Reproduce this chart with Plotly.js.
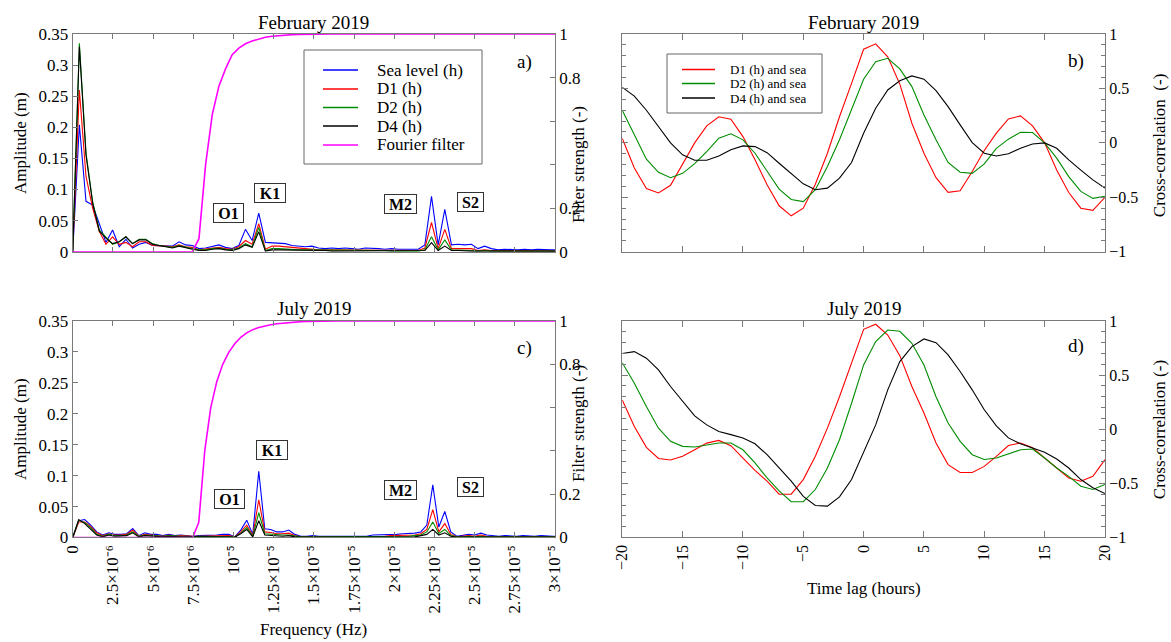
<!DOCTYPE html>
<html>
<head>
<meta charset="utf-8">
<script src="https://cdn.plot.ly/plotly-3.0.1.min.js"></script>
<style>html,body{margin:0;padding:0;background:#fff;}#chart{width:1171px;height:642px;}</style>
</head>
<body>
<div id="chart"></div>
<script>
// ---------- Spectra, February 2019 (frequency in 1e-6 Hz) ----------
const freqFeb = [0, 0.413, 0.827, 1.240, 1.653, 2.067, 2.480, 2.894, 3.307, 3.720,
  4.134, 4.547, 4.960, 5.374, 5.787, 6.200, 6.614, 7.027, 7.441, 7.854,
  8.267, 8.681, 9.094, 9.507, 9.921, 10.334, 10.747, 11.161, 11.574, 11.987,
  12.401, 12.814, 13.228, 13.641, 14.054, 14.468, 14.881, 15.294, 15.708, 16.121,
  16.534, 16.948, 17.361, 17.775, 18.188, 18.601, 19.015, 19.428, 19.841, 20.255,
  20.668, 21.081, 21.495, 21.908, 22.321, 22.735, 23.148, 23.562, 23.975, 24.388,
  24.802, 25.215, 25.628, 26.042, 26.455, 26.868, 27.282, 27.695, 28.108, 28.522,
  28.935, 29.349, 29.762, 30.175];
const seaFeb = [0, 0.204, 0.081, 0.075, 0.045, 0.015, 0.035, 0.008, 0.020, 0.006,
  0.012, 0.015, 0.010, 0.010, 0.009, 0.009, 0.016, 0.011, 0.010, 0.005,
  0.006, 0.008, 0.011, 0.007, 0.005, 0.010, 0.036, 0.018, 0.062, 0.015,
  0.014, 0.013, 0.013, 0.010, 0.009, 0.008, 0.009, 0.006, 0.005, 0.006,
  0.005, 0.006, 0.005, 0.004, 0.006, 0.006, 0.005, 0.004, 0.005, 0.004,
  0.004, 0.004, 0.004, 0.011, 0.089, 0.011, 0.068, 0.011, 0.012, 0.011,
  0.012, 0.005, 0.009, 0.005, 0.003, 0.004, 0.003, 0.003, 0.004, 0.003,
  0.004, 0.003, 0.003, 0.003];
const d1Feb = [0, 0.260, 0.121, 0.070, 0.033, 0.012, 0.024, 0.012, 0.015, 0.008,
  0.016, 0.016, 0.010, 0.010, 0.009, 0.008, 0.011, 0.008, 0.007, 0.003,
  0.004, 0.006, 0.007, 0.005, 0.004, 0.008, 0.018, 0.012, 0.045, 0.004,
  0.009, 0.009, 0.008, 0.006, 0.005, 0.004, 0.004, 0.003, 0.003, 0.003,
  0.003, 0.003, 0.002, 0.002, 0.003, 0.003, 0.002, 0.002, 0.002, 0.002,
  0.002, 0.002, 0.002, 0.006, 0.047, 0.005, 0.036, 0.005, 0.005, 0.005,
  0.005, 0.002, 0.003, 0.002, 0.002, 0.002, 0.001, 0.002, 0.002, 0.001,
  0.002, 0.001, 0.001, 0.001];
const d2Feb = [0, 0.335, 0.159, 0.080, 0.035, 0.024, 0.012, 0.016, 0.024, 0.013,
  0.020, 0.020, 0.013, 0.010, 0.009, 0.007, 0.010, 0.007, 0.005, 0.003,
  0.003, 0.005, 0.006, 0.004, 0.003, 0.006, 0.013, 0.008, 0.039, 0.002,
  0.005, 0.005, 0.004, 0.004, 0.003, 0.003, 0.003, 0.003, 0.002, 0.002,
  0.002, 0.002, 0.002, 0.002, 0.002, 0.002, 0.002, 0.002, 0.001, 0.001,
  0.001, 0.001, 0.001, 0.003, 0.024, 0.003, 0.019, 0.003, 0.003, 0.002,
  0.002, 0.001, 0.002, 0.001, 0.001, 0.001, 0.001, 0.001, 0.001, 0.001,
  0.001, 0.001, 0.001, 0.001];
const d4Feb = [0, 0.330, 0.155, 0.078, 0.033, 0.022, 0.013, 0.016, 0.024, 0.013,
  0.019, 0.019, 0.012, 0.010, 0.009, 0.006, 0.009, 0.006, 0.004, 0.002,
  0.002, 0.004, 0.005, 0.003, 0.002, 0.005, 0.011, 0.007, 0.032, 0.001,
  0.003, 0.003, 0.003, 0.003, 0.002, 0.002, 0.002, 0.002, 0.002, 0.001,
  0.001, 0.001, 0.001, 0.001, 0.001, 0.001, 0.001, 0.001, 0.001, 0.001,
  0.001, 0.001, 0.001, 0.002, 0.0145, 0.002, 0.009, 0.002, 0.002, 0.001,
  0.001, 0.001, 0.001, 0.001, 0.001, 0.001, 0.001, 0.001, 0.001, 0.001,
  0.001, 0.001, 0.001, 0.001];
const filterFeb = [0, 0, 0, 0, 0, 0, 0, 0, 0, 0,
  0, 0, 0, 0, 0, 0, 0, 0, 0, 0.06,
  0.40, 0.63, 0.76, 0.84, 0.905, 0.935, 0.955, 0.968, 0.978, 0.985,
  0.990, 0.993, 0.995, 0.997, 0.998, 0.999, 1, 1, 1, 1,
  1, 1, 1, 1, 1, 1, 1, 1, 1, 1,
  1, 1, 1, 1, 1, 1, 1, 1, 1, 1,
  1, 1, 1, 1, 1, 1, 1, 1, 1, 1,
  1, 1, 1, 1];

// ---------- Spectra, July 2019 ----------
const freqJul = [0, 0.373, 0.747, 1.120, 1.493, 1.867, 2.240, 2.614, 2.987, 3.360,
  3.734, 4.107, 4.480, 4.854, 5.227, 5.600, 5.974, 6.347, 6.720, 7.094,
  7.467, 7.841, 8.214, 8.587, 8.961, 9.334, 9.707, 10.081, 10.454, 10.827,
  11.201, 11.574, 11.948, 12.321, 12.694, 13.068, 13.441, 13.814, 14.188, 14.561,
  14.934, 15.308, 15.681, 16.054, 16.428, 16.801, 17.175, 17.548, 17.921, 18.295,
  18.668, 19.041, 19.415, 19.788, 20.161, 20.535, 20.908, 21.282, 21.655, 22.028,
  22.402, 22.775, 23.148, 23.522, 23.895, 24.268, 24.642, 25.015, 25.388, 25.762,
  26.135, 26.508, 26.882, 27.255, 27.629, 28.002, 28.375, 28.749, 29.122, 29.495,
  29.869, 30.242];
const seaJul = [0, 0.027, 0.029, 0.020, 0.009, 0.004, 0.0075, 0.005, 0.005, 0.006,
  0.0145, 0.003, 0.0075, 0.005, 0.005, 0.003, 0.005, 0.003, 0.004, 0.003,
  0.002, 0.003, 0.003, 0.003, 0.004, 0.005, 0.005, 0.001, 0.012, 0.028,
  0.005, 0.107, 0.014, 0.013, 0.009, 0.009, 0.012, 0.005, 0.002, 0.002,
  0.003, 0.002, 0.002, 0.003, 0.002, 0.002, 0.002, 0.002, 0.003, 0.002,
  0.004, 0.004, 0.004, 0.005, 0.005, 0.006, 0.006, 0.007, 0.009, 0.020,
  0.085, 0.017, 0.042, 0.009, 0.002, 0.003, 0.005, 0.004, 0.007, 0.004,
  0.003, 0.002, 0.003, 0.002, 0.002, 0.003, 0.002, 0.002, 0.003, 0.002,
  0.002, 0.002];
const d1Jul = [0, 0.025, 0.025, 0.018, 0.0075, 0.003, 0.0055, 0.004, 0.004, 0.005,
  0.012, 0.002, 0.005, 0.004, 0.004, 0.002, 0.004, 0.002, 0.003, 0.002,
  0.002, 0.002, 0.002, 0.002, 0.003, 0.003, 0.003, 0.001, 0.009, 0.020,
  0.003, 0.061, 0.009, 0.008, 0.006, 0.006, 0.007, 0.003, 0.001, 0.001,
  0.001, 0.001, 0.001, 0.001, 0.001, 0.001, 0.001, 0.001, 0.001, 0.001,
  0.002, 0.002, 0.002, 0.003, 0.003, 0.003, 0.004, 0.004, 0.006, 0.013,
  0.045, 0.009, 0.0225, 0.005, 0.001, 0.002, 0.003, 0.002, 0.004, 0.002,
  0.002, 0.001, 0.001, 0.001, 0.001, 0.001, 0.001, 0.001, 0.001, 0.001,
  0.001, 0.001];
const d2Jul = [0, 0.028, 0.024, 0.016, 0.005, 0.002, 0.005, 0.003, 0.003, 0.004,
  0.009, 0.002, 0.004, 0.003, 0.003, 0.002, 0.003, 0.002, 0.002, 0.002,
  0.001, 0.002, 0.002, 0.002, 0.002, 0.002, 0.002, 0.001, 0.007, 0.016,
  0.002, 0.040, 0.006, 0.005, 0.004, 0.004, 0.004, 0.002, 0.001, 0.001,
  0.001, 0.001, 0.001, 0.001, 0.001, 0.001, 0.001, 0.001, 0.001, 0.001,
  0.001, 0.001, 0.001, 0.002, 0.002, 0.002, 0.002, 0.003, 0.004, 0.009,
  0.025, 0.0065, 0.013, 0.003, 0.001, 0.001, 0.002, 0.001, 0.002, 0.001,
  0.001, 0.001, 0.001, 0.001, 0.001, 0.001, 0.001, 0.001, 0.001, 0.001,
  0.001, 0.001];
const d4Jul = [0, 0.029, 0.0225, 0.014, 0.004, 0.001, 0.004, 0.002, 0.002, 0.003,
  0.0075, 0.001, 0.003, 0.002, 0.002, 0.001, 0.002, 0.001, 0.001, 0.001,
  0.001, 0.001, 0.001, 0.001, 0.001, 0.001, 0.001, 0.0005, 0.006, 0.013,
  0.001, 0.027, 0.004, 0.003, 0.003, 0.002, 0.003, 0.001, 0.0005, 0.0005,
  0.0005, 0.0005, 0.0005, 0.0005, 0.0005, 0.0005, 0.0005, 0.0005, 0.0005, 0.0005,
  0.0005, 0.0005, 0.0005, 0.001, 0.001, 0.001, 0.001, 0.001, 0.003, 0.005,
  0.013, 0.004, 0.0075, 0.002, 0.0005, 0.0005, 0.0005, 0.0005, 0.0005, 0.0005,
  0.0005, 0.0005, 0.0005, 0.0005, 0.0005, 0.0005, 0.0005, 0.0005, 0.0005, 0.0005,
  0.0005, 0.0005];
const filterJul = [0, 0, 0, 0, 0, 0, 0, 0, 0, 0,
  0, 0, 0, 0, 0, 0, 0, 0, 0, 0,
  0, 0.07, 0.40, 0.60, 0.72, 0.80, 0.855, 0.895, 0.925, 0.945,
  0.960, 0.970, 0.977, 0.983, 0.987, 0.990, 0.993, 0.995, 0.997, 0.998,
  0.999, 1, 1, 1, 1, 1, 1, 1, 1, 1,
  1, 1, 1, 1, 1, 1, 1, 1, 1, 1,
  1, 1, 1, 1, 1, 1, 1, 1, 1, 1,
  1, 1, 1, 1, 1, 1, 1, 1, 1, 1,
  1, 1];

// ---------- Cross-correlation vs time lag (hours) ----------
const lag = [-20, -19, -18, -17, -16, -15, -14, -13, -12, -11, -10, -9, -8, -7, -6, -5, -4, -3, -2, -1,
  0, 1, 2, 3, 4, 5, 6, 7, 8, 9, 10, 11, 12, 13, 14, 15, 16, 17, 18, 19, 20];
const ccD1Feb = [0.04, -0.23, -0.42, -0.46, -0.39, -0.20, 0.0, 0.156, 0.24, 0.217, 0.058, -0.156, -0.385, -0.578, -0.67, -0.60, -0.38, -0.095, 0.24, 0.547,
  0.86, 0.91, 0.79, 0.54, 0.18, -0.095, -0.32, -0.455, -0.44, -0.263, -0.07, 0.09, 0.22, 0.248, 0.156, 0.0, -0.25, -0.456, -0.60, -0.62, -0.50];
const ccD2Feb = [0.30, 0.073, -0.15, -0.27, -0.32, -0.28, -0.19, -0.08, 0.043, 0.083, 0.028, -0.095, -0.26, -0.425, -0.52, -0.54, -0.43, -0.217, 0.028, 0.30,
  0.584, 0.746, 0.777, 0.68, 0.517, 0.257, 0.028, -0.18, -0.27, -0.28, -0.193, -0.05, 0.034, 0.098, 0.095, 0.0, -0.14, -0.31, -0.446, -0.51, -0.49];
const ccD4Feb = [0.51, 0.43, 0.30, 0.15, 0.0, -0.11, -0.16, -0.16, -0.12, -0.064, -0.028, -0.034, -0.09, -0.187, -0.284, -0.376, -0.43, -0.416, -0.324, -0.18,
  0.089, 0.318, 0.486, 0.57, 0.615, 0.585, 0.48, 0.333, 0.165, 0.003, -0.095, -0.12, -0.10, -0.05, -0.01, 0.0, -0.05, -0.156, -0.25, -0.34, -0.416];
const ccD1Jul = [0.27, 0.026, -0.167, -0.27, -0.284, -0.25, -0.19, -0.128, -0.103, -0.152, -0.266, -0.38, -0.48, -0.60, -0.60, -0.465, -0.25, 0.01, 0.30, 0.61,
  0.923, 0.97, 0.87, 0.68, 0.395, 0.15, -0.127, -0.327, -0.40, -0.40, -0.343, -0.25, -0.15, -0.127, -0.17, -0.266, -0.358, -0.45, -0.48, -0.435, -0.28];
const ccD2Jul = [0.615, 0.425, 0.21, 0.01, -0.112, -0.158, -0.164, -0.143, -0.127, -0.127, -0.19, -0.31, -0.45, -0.57, -0.67, -0.67, -0.557, -0.358, -0.097, 0.24,
  0.594, 0.81, 0.917, 0.905, 0.794, 0.594, 0.30, 0.057, -0.112, -0.235, -0.28, -0.266, -0.226, -0.19, -0.183, -0.266, -0.358, -0.435, -0.527, -0.557, -0.51];
const ccD4Jul = [0.70, 0.717, 0.656, 0.548, 0.395, 0.257, 0.124, 0.04, -0.02, -0.05, -0.08, -0.134, -0.235, -0.358, -0.48, -0.62, -0.705, -0.71, -0.625, -0.465,
  -0.204, 0.04, 0.364, 0.625, 0.763, 0.834, 0.80, 0.687, 0.533, 0.364, 0.18, 0.032, -0.08, -0.134, -0.174, -0.213, -0.275, -0.358, -0.465, -0.54, -0.594];

// ---------- Tick labels and legend texts ----------
const freqTickVals = [0, 2.5, 5, 7.5, 10, 12.5, 15, 17.5, 20, 22.5, 25, 27.5, 30];
const freqTickText = ['0', '2.5×10⁻⁶', '5×10⁻⁶', '7.5×10⁻⁶', '10⁻⁵',
  '1.25×10⁻⁵', '1.5×10⁻⁵', '1.75×10⁻⁵', '2×10⁻⁵', '2.25×10⁻⁵',
  '2.5×10⁻⁵', '2.75×10⁻⁵', '3×10⁻⁵'];
const filterTickVals = [0, 0.2, 0.8, 1];
const filterTickText = ['0', '0.2', '0.8', '1'];
const specNames = ['Sea level (h)', 'D1 (h)', 'D2 (h)', 'D4 (h)', 'Fourier filter'];
const ccNames = ['D1 (h) and sea', 'D2 (h) and sea', 'D4 (h) and sea'];

// ---------- Styling ----------
const FONT = 'Liberation Serif, "Times New Roman", Times, serif';
const AX = '#7a7a7a';
const specColors = ['#0000ff', '#ff0000', '#008c00', '#000000', '#ff00ff'];
const ccColors = ['#ff0000', '#008c00', '#000000'];
const LW = 1.1;
const W = 1171, H = 642;
const px = v => v / W, py = v => 1 - v / H;

function spec(x, y, xa, ya, i) {
  return {type: 'scatter', mode: 'lines', x: x, y: y, xaxis: xa, yaxis: ya, name: specNames[i],
    line: {color: specColors[i], width: i === 4 ? 1.6 : LW}, showlegend: false, hoverinfo: 'skip'};
}
function cc(y, xa, ya, i) {
  return {type: 'scatter', mode: 'lines', x: lag, y: y, xaxis: xa, yaxis: ya, name: ccNames[i],
    line: {color: ccColors[i], width: LW}, showlegend: false, hoverinfo: 'skip'};
}

const data = [
  spec(freqFeb, seaFeb, 'x', 'y', 0),
  spec(freqFeb, d1Feb, 'x', 'y', 1),
  spec(freqFeb, d2Feb, 'x', 'y', 2),
  spec(freqFeb, d4Feb, 'x', 'y', 3),
  spec(freqFeb, filterFeb, 'x', 'y2', 4),
  spec(freqJul, seaJul, 'x2', 'y3', 0),
  spec(freqJul, d1Jul, 'x2', 'y3', 1),
  spec(freqJul, d2Jul, 'x2', 'y3', 2),
  spec(freqJul, d4Jul, 'x2', 'y3', 3),
  spec(freqJul, filterJul, 'x2', 'y4', 4),
  cc(ccD1Feb, 'x3', 'y5', 0),
  cc(ccD2Feb, 'x3', 'y5', 1),
  cc(ccD4Feb, 'x3', 'y5', 2),
  cc(ccD1Jul, 'x4', 'y6', 0),
  cc(ccD2Jul, 'x4', 'y6', 1),
  cc(ccD4Jul, 'x4', 'y6', 2)
];

const XL = [0.0621, 0.4739], XR = [0.5314, 0.9436];
const YT = [0.6079, 0.947], YB = [0.1628, 0.5];

function freqAxis(anchor, labels) {
  return {domain: XL, anchor: anchor, range: [0, 30], tickmode: 'array', tickvals: freqTickVals,
    ticktext: freqTickText, showticklabels: labels, tickangle: -90, ticks: 'inside', ticklen: 5,
    tickcolor: AX, showline: true, linecolor: AX, linewidth: 1, mirror: 'ticks', showgrid: false,
    zeroline: false, tickfont: {family: FONT, size: 17, color: '#000'}, fixedrange: true};
}
function ampAxis(anchor, dom) {
  return {domain: dom, anchor: anchor, range: [0, 0.35], tick0: 0, dtick: 0.05, ticks: 'inside', ticklen: 5,
    tickcolor: AX, showline: true, linecolor: AX, linewidth: 1, showgrid: false, zeroline: false,
    tickfont: {family: FONT, size: 17, color: '#000'}, fixedrange: true};
}
function filtAxis(anchor, over) {
  return {overlaying: over, anchor: anchor, side: 'right', range: [0, 1], tickmode: 'array',
    tickvals: filterTickVals, ticktext: filterTickText, ticks: 'inside', ticklen: 5, tickcolor: AX,
    minor: {tick0: 0, dtick: 0.2, ticks: 'inside', ticklen: 5, tickcolor: AX, showgrid: false},
    showline: true, linecolor: AX, linewidth: 1, showgrid: false, zeroline: false,
    tickfont: {family: FONT, size: 17, color: '#000'}, fixedrange: true};
}
function lagAxis(anchor, labels) {
  return {domain: XR, anchor: anchor, range: [-20, 20], tick0: 0, dtick: 5, showticklabels: labels,
    tickangle: -90, ticks: 'inside', ticklen: 6, tickcolor: AX, showline: true, linecolor: AX,
    linewidth: 1, mirror: 'ticks', showgrid: false, zeroline: false,
    tickfont: {family: FONT, size: 16, color: '#000'}, fixedrange: true};
}
function ccAxis(anchor, dom) {
  return {domain: dom, anchor: anchor, side: 'right', range: [-1, 1], tick0: 0, dtick: 0.5,
    ticks: 'inside', ticklen: 6, tickcolor: AX, showline: true, linecolor: AX, linewidth: 1,
    mirror: 'ticks', showgrid: false, zeroline: false,
    minor: {dtick: 0.1, ticks: 'inside', ticklen: 4, tickcolor: AX, showgrid: false},
    tickfont: {family: FONT, size: 16, color: '#000'}, fixedrange: true};
}

function txt(text, x, y, size, angle, extra) {
  return Object.assign({text: text, x: x, y: y, xref: 'paper', yref: 'paper', showarrow: false,
    xanchor: 'center', yanchor: 'middle', textangle: angle || 0,
    font: {family: FONT, size: size, color: '#000'}}, extra || {});
}
function box(text, x, y, w) {
  return txt('<b>' + text + '</b>', x, y, 16, 0,
    {bgcolor: '#fff', bordercolor: '#333', borderwidth: 1, borderpad: 0, width: w, height: 18});
}

// Legends drawn as boxes with short line samples and real text entries
const shapes = [];
const legendTexts = [];
function legendBlock(names, colors, left, top, right, bottom, rows, lx0, lx1, tx, size) {
  shapes.push({type: 'rect', xref: 'paper', yref: 'paper', x0: px(left), x1: px(right),
    y0: py(bottom), y1: py(top), line: {color: '#666', width: 1}, fillcolor: '#fff', layer: 'above'});
  names.forEach((n, i) => {
    shapes.push({type: 'line', xref: 'paper', yref: 'paper', x0: px(lx0), x1: px(lx1),
      y0: py(rows[i]), y1: py(rows[i]), line: {color: colors[i], width: 1.3}, layer: 'above'});
    legendTexts.push(txt(n, px(tx), py(rows[i]), size, 0, {xanchor: 'left'}));
  });
}
legendBlock(specNames, specColors, 304, 50, 482, 164, [70, 89, 107.5, 126, 145], 323, 358, 375, 17);
legendBlock(ccNames, ccColors, 667, 54, 822, 113, [69.5, 83.5, 98], 682, 715, 728, 13);

const annotations = [
  txt('February 2019', 0.268, 0.9642, 19),
  txt('February 2019', 0.7375, 0.9642, 19),
  txt('July 2019', 0.268, 0.5187, 19),
  txt('July 2019', 0.7375, 0.5187, 19),
  txt('a)', 0.4483, 0.9034, 19),
  txt('b)', 0.9189, 0.905, 19),
  txt('c)', 0.4483, 0.4587, 19),
  txt('d)', 0.9189, 0.461, 19),
  txt('Amplitude (m)', 0.0179, 0.7773, 17, -90),
  txt('Amplitude (m)', 0.0179, 0.3318, 17, -90),
  txt('Filter strength (-)', 0.4945, 0.743, 17, -90),
  txt('Filter strength (-)', 0.4945, 0.3396, 17, -90),
  txt('Cross-correlation\u00a0 (-)', 0.9898, 0.774, 17, -90),
  txt('Cross-correlation (-)', 0.9898, 0.33, 17, -90),
  txt('Frequency (Hz)', 0.268, 0.0187, 17),
  txt('Time lag (hours)', 0.7375, 0.0841, 17),
  box('O1', 0.1951, 0.669, 29),
  box('K1', 0.2306, 0.6994, 30),
  box('M2', 0.3418, 0.6822, 31),
  box('S2', 0.4014, 0.6858, 25),
  box('O1', 0.1956, 0.2231, 29),
  box('K1', 0.2327, 0.2995, 30),
  box('M2', 0.3418, 0.2363, 31),
  box('S2', 0.4014, 0.2419, 25)
].concat(legendTexts);

const layout = {
  width: W, height: H,
  margin: {l: 0, r: 0, t: 0, b: 0},
  paper_bgcolor: '#fff', plot_bgcolor: 'rgba(0,0,0,0)',
  font: {family: FONT, color: '#000'},
  hovermode: false, showlegend: false,
  xaxis: freqAxis('y', false),
  yaxis: ampAxis('x', YT),
  yaxis2: filtAxis('x', 'y'),
  xaxis2: freqAxis('y3', true),
  yaxis3: ampAxis('x2', YB),
  yaxis4: filtAxis('x2', 'y3'),
  xaxis3: lagAxis('y5', false),
  yaxis5: ccAxis('x3', YT),
  xaxis4: lagAxis('y6', true),
  yaxis6: ccAxis('x4', YB),
  shapes: shapes,
  annotations: annotations
};

Plotly.newPlot('chart', data, layout, {staticPlot: true, displayModeBar: false});
</script>
</body>
</html>
